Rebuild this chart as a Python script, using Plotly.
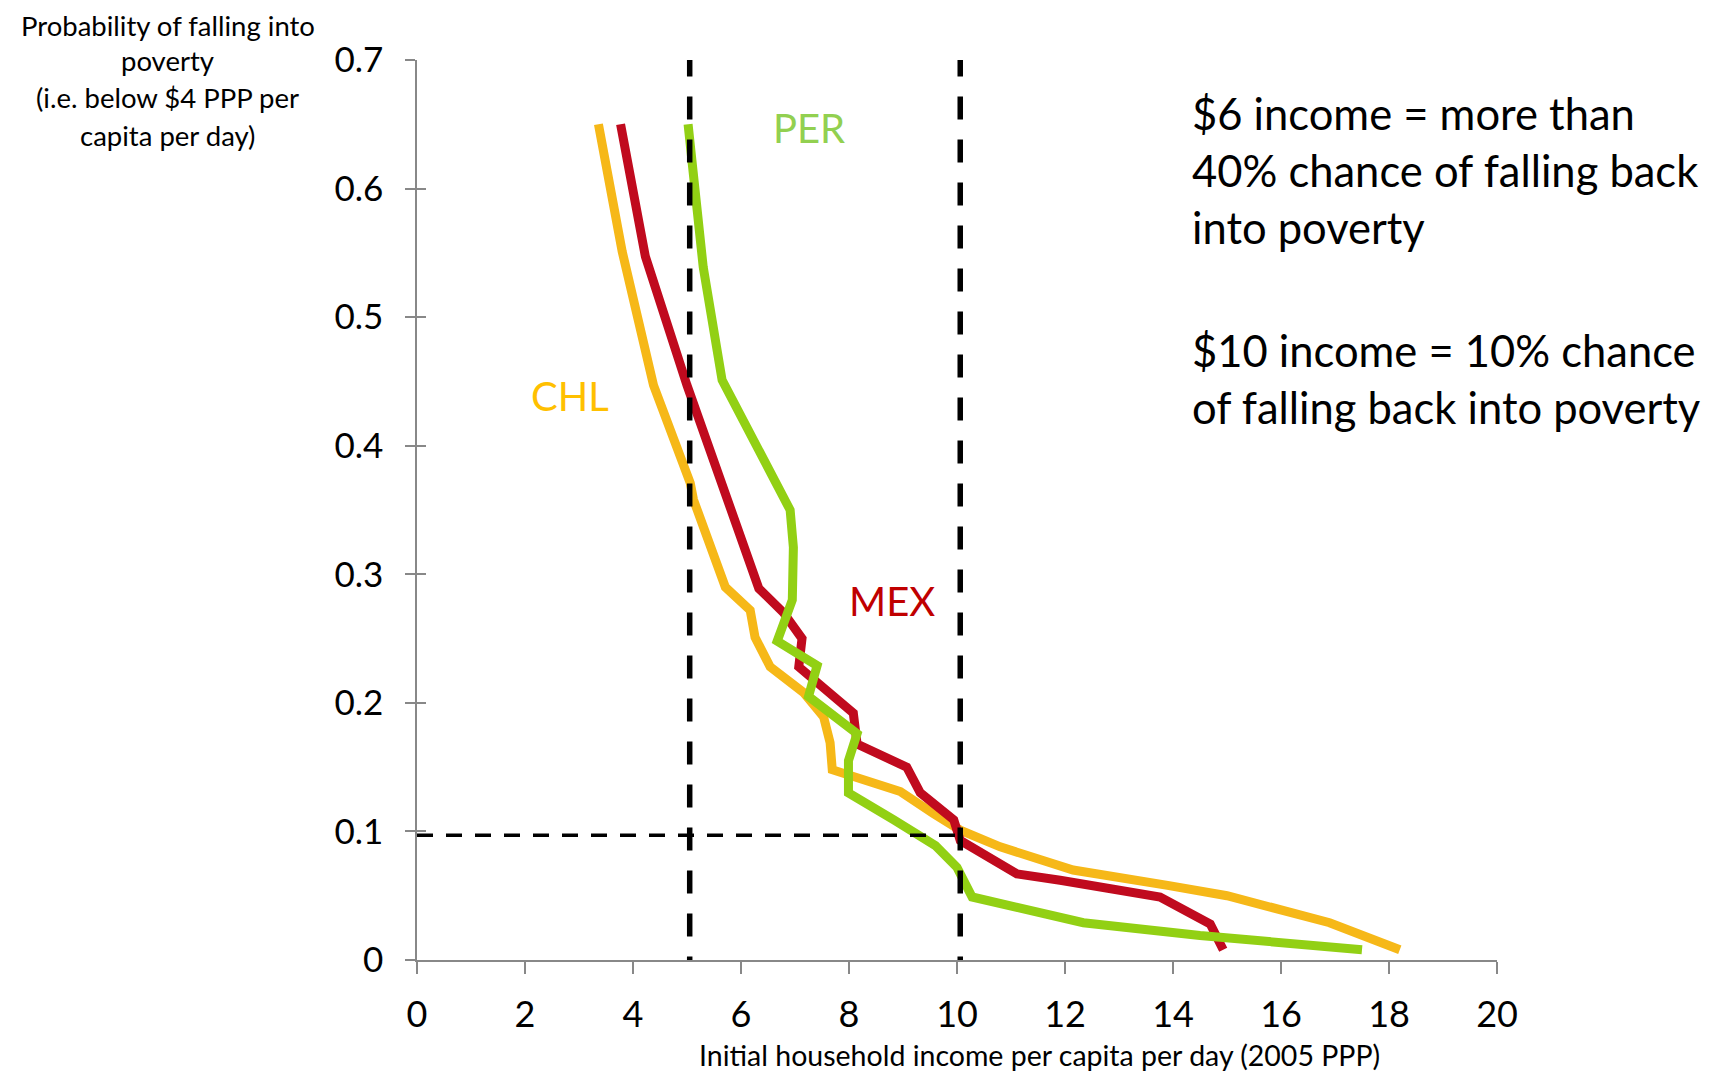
import plotly.graph_objects as go

# ---- data ----
chl_x = [3.36, 3.80, 4.38, 5.06, 5.12, 5.45, 5.71, 6.17, 6.26, 6.54, 7.16, 7.53, 7.65, 7.69,
         8.95, 9.56, 10.06, 10.8, 12.15, 13.9, 15.0, 16.9, 18.2]
chl_y = [0.650, 0.551, 0.447, 0.371, 0.358, 0.321, 0.290, 0.272, 0.251, 0.228, 0.208, 0.189,
         0.169, 0.148, 0.131, 0.114, 0.101, 0.088, 0.070, 0.058, 0.050, 0.029, 0.008]

mex_x = [3.77, 4.23, 5.00, 5.74, 6.33, 6.79, 7.13, 7.07, 8.08, 8.15, 9.07, 9.32, 9.94, 10.06,
         11.11, 11.91, 13.76, 14.69, 14.93]
mex_y = [0.650, 0.547, 0.447, 0.358, 0.289, 0.270, 0.250, 0.228, 0.192, 0.168, 0.150, 0.130,
         0.109, 0.093, 0.067, 0.062, 0.049, 0.028, 0.008]

per_x = [5.02, 5.30, 5.65, 6.91, 6.97, 6.95, 6.67, 7.41, 7.25, 8.15, 7.99, 7.99, 8.83, 9.60,
         10.00, 10.28, 12.34, 14.50, 17.50]
per_y = [0.650, 0.539, 0.451, 0.350, 0.321, 0.280, 0.248, 0.229, 0.205, 0.176, 0.155, 0.130,
         0.109, 0.089, 0.072, 0.049, 0.029, 0.019, 0.008]

x_ticks = [0, 2, 4, 6, 8, 10, 12, 14, 16, 18, 20]
y_ticks = [0, 0.1, 0.2, 0.3, 0.4, 0.5, 0.6, 0.7]
y_tick_text = ["0", "0.1", "0.2", "0.3", "0.4", "0.5", "0.6", "0.7"]

ref_x = [5.05, 10.06]      # vertical dashed reference lines
ref_y = 0.097              # horizontal dashed reference line

labels = ["CHL", "MEX", "PER"]
label_x = [2.83, 8.80, 7.25]
label_y = [0.439, 0.279, 0.647]

y_title_lines = ["Probability of falling into", "poverty", "(i.e. below $4 PPP per", "capita per day)"]
note_lines = ["$6 income = more than", "40% chance of falling back", "into poverty",
              "$10 income = 10% chance", "of falling back into poverty"]

FONT = "Lato"
line_cols = {"CHL": "#F6B818", "MEX": "#C00A1E", "PER": "#92D014"}
label_cols = {"CHL": "#FFC000", "MEX": "#C00000", "PER": "#92D050"}

fig = go.Figure()
for name, xs, ys in [("CHL", chl_x, chl_y), ("MEX", mex_x, mex_y), ("PER", per_x, per_y)]:
    fig.add_trace(go.Scatter(x=xs, y=ys, mode="lines", name=name,
                             line=dict(color=line_cols[name], width=9),
                             showlegend=False, hoverinfo="skip"))

# reference dashed lines (drawn from the top down so the dash pattern starts at the top)
for rx in ref_x:
    fig.add_shape(type="line", xref="x", yref="y", x0=rx, x1=rx, y0=0.705, y1=0,
                  line=dict(color="black", width=5.5, dash="23px,20px"), layer="above")
fig.add_shape(type="line", xref="x", yref="y", x0=0, x1=ref_x[1], y0=ref_y, y1=ref_y,
              line=dict(color="black", width=3.5, dash="16px,13px"), layer="above")

# series labels
for lab, lx, ly in zip(labels, label_x, label_y):
    fig.add_annotation(x=lx, y=ly, xref="x", yref="y", text=lab, showarrow=False,
                       font=dict(family=FONT, size=40, color=label_cols[lab]))

# y-axis title (top-left)
for txt, py in zip(y_title_lines, [25.5, 60.5, 97.3, 135.5]):
    fig.add_annotation(x=-0.2309, y=(959.8 - py) / 900.0, xref="paper", yref="paper", text=txt,
                       showarrow=False, xanchor="center", yanchor="middle",
                       font=dict(family=FONT, size=27.5, color="black"))

# x-axis title
fig.add_annotation(x=0.576, y=-0.1058, xref="paper", yref="paper",
                   text="Initial household income per capita per day (2005 PPP)", showarrow=False,
                   xanchor="center", yanchor="middle", font=dict(family=FONT, size=28.5, color="black"))

# right-hand notes
for txt, py in zip(note_lines, [113, 170, 227, 350, 407]):
    fig.add_annotation(x=0.7158, y=(959.8 - py) / 900.0, xref="paper", yref="paper", text=txt,
                       showarrow=False, xanchor="left", yanchor="middle",
                       font=dict(family=FONT, size=43.5, color="black"))

axis_col = "#888888"
fig.update_layout(
    width=1706, height=1063,
    margin=dict(l=409, r=217, t=52, b=111),
    paper_bgcolor="white", plot_bgcolor="white",
    font=dict(family=FONT, color="black"),
    xaxis=dict(range=[0, 20], tickvals=x_ticks, ticktext=[str(v) for v in x_ticks],
               showgrid=False, zeroline=False, showline=True, linecolor=axis_col, linewidth=1.5,
               ticks="outside", ticklen=12, tickwidth=1.5, tickcolor=axis_col,
               tickfont=dict(family=FONT, size=36, color="black"), ticklabelstandoff=10),
    yaxis=dict(range=[0, 0.7], tickvals=y_ticks, ticktext=y_tick_text,
               showgrid=False, zeroline=False, showline=True, linecolor=axis_col, linewidth=1.5,
               ticks="outside", ticklen=10, tickwidth=1.5, tickcolor=axis_col,
               tickfont=dict(family=FONT, size=35, color="black"), ticklabelstandoff=15),
    yaxis2=dict(range=[0, 0.7], tickvals=y_ticks, overlaying="y", side="left",
                showgrid=False, zeroline=False, showline=False, showticklabels=False,
                ticks="inside", ticklen=9, tickwidth=1.5, tickcolor=axis_col),
)
# an invisible trace so the overlay axis is drawn
fig.add_trace(go.Scatter(x=[0], y=[0], yaxis="y2", mode="markers",
                         marker=dict(opacity=0), showlegend=False, hoverinfo="skip"))

fig.write_html("out.html")
